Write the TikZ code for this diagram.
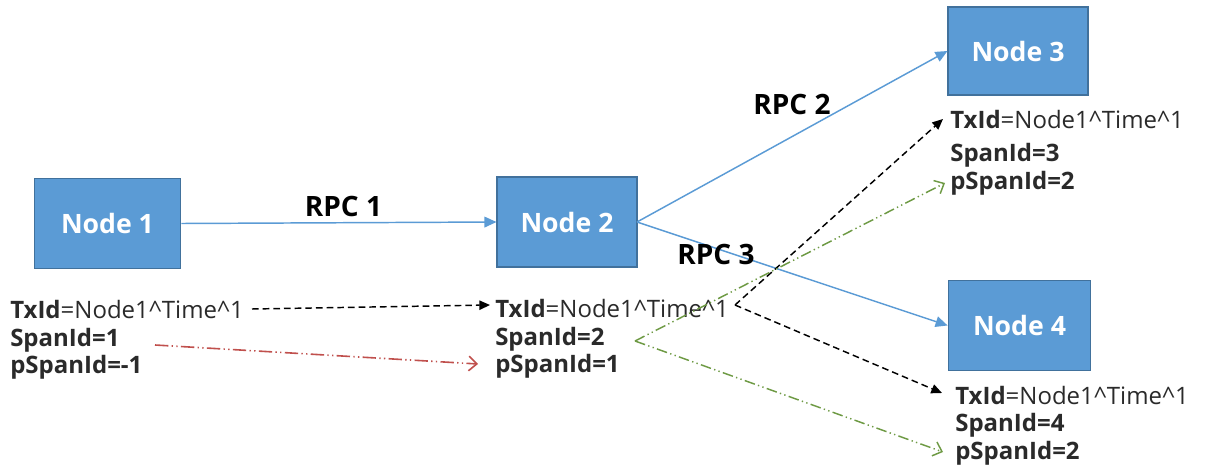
\documentclass[tikz,border=0pt]{standalone}
\usepackage{fontspec}
\setmainfont{Open Sans}
\usetikzlibrary{arrows.meta}
\definecolor{nodeblue}{HTML}{5B9BD5}
\definecolor{nodeedge}{HTML}{41719C}
\definecolor{linkblue}{HTML}{5B9BD5}
\definecolor{dgreen}{HTML}{6E9A44}
\definecolor{dred}{HTML}{C0504D}
\definecolor{txtgray}{HTML}{2A2A2A}
\begin{document}
\begin{tikzpicture}[x=0.75pt,y=-0.75pt,
  box/.style={draw=nodeedge, fill=nodeblue, line width=0.8pt, text=white,
    font=\bfseries\fontsize{20}{22}\selectfont, inner sep=0pt},
  rpc/.style={font=\bfseries\fontsize{21}{23}\selectfont, text=black, inner sep=0pt, anchor=base},
  info/.style={anchor=base west, inner sep=0pt, font=\fontsize{18}{20}\selectfont, text=txtgray},
  link/.style={draw=linkblue, line width=1.1pt, -{Triangle[length=9pt,width=8pt]}},
  blackdash/.style={draw=black, line width=1.1pt, dash pattern=on 5pt off 3pt, -{Triangle[length=8pt,width=7pt]}},
  greendash/.style={draw=dgreen, line width=1.1pt, dash pattern=on 8pt off 2.5pt on 1pt off 2.5pt on 1pt off 2.5pt, -{Straight Barb[length=6pt,width=11pt]}},
  reddash/.style={draw=dred, line width=1.2pt, dash pattern=on 10pt off 2.5pt on 1pt off 2.5pt on 1pt off 2.5pt, -{Straight Barb[length=6pt,width=11pt]}}
]
\useasboundingbox (0,0) rectangle (1218,468);

% nodes
\node[box, minimum width=110pt, minimum height=68pt] (n1) at (107.5,223.5) {Node 1};
\node[box, minimum width=105pt, minimum height=67.5pt] (n2) at (567,222) {Node 2};
\node[box, minimum width=105pt, minimum height=66pt] (n3) at (1018,51) {Node 3};
\node[box, minimum width=107pt, minimum height=67pt] (n4) at (1019.5,325.5) {Node 4};

% rpc links
\draw[link] (n1.east) -- (n2.west);
\coordinate (n2out) at (637,222);
\draw[link] (n2out) -- (n3.west);
\draw[link] (n2out) -- (n4.west);
\node[rpc] (r1) at (343.5,216) {RPC 1};
\node[rpc] (r2) at (792,114) {RPC 2};
\node[rpc] (r3) at (716,264) {RPC 3};

% info blocks
\node[info] (t1) at (10,318) {\textbf{TxId}=Node1\^{}Time\^{}1};
\node[info] (s1) at (10,346) {\textbf{SpanId=1}};
\node[info] (p1) at (10,373) {\textbf{pSpanId=-1}};

\node[info] (t2) at (495,317) {\textbf{TxId}=Node1\^{}Time\^{}1};
\node[info] (s2) at (495,345) {\textbf{SpanId=2}};
\node[info] (p2) at (495,372) {\textbf{pSpanId=1}};

\node[info] (t3) at (950,128) {\textbf{TxId}=Node1\^{}Time\^{}1};
\node[info] (s3) at (950,161) {\textbf{SpanId=3}};
\node[info] (p3) at (950,189) {\textbf{pSpanId=2}};

\node[info] (t4) at (955,404) {\textbf{TxId}=Node1\^{}Time\^{}1};
\node[info] (s4) at (955,431) {\textbf{SpanId=4}};
\node[info] (p4) at (955,459) {\textbf{pSpanId=2}};

% trace connectors
\coordinate (b1s) at (252,309);
\coordinate (b1e) at (490,305);
\draw[blackdash] (b1s) -- (b1e);
\coordinate (r1s) at (155,345);
\coordinate (r1e) at (478,364);
\draw[reddash] (r1s) -- (r1e);

\coordinate (b2s) at (735,305);
\coordinate (b3e) at (943,119);
\coordinate (b4e) at (942,393);
\draw[blackdash] (b2s) -- (b3e);
\draw[blackdash] (b2s) -- (b4e);

\coordinate (g2s) at (635,341);
\coordinate (g3e) at (945,183);
\coordinate (g4e) at (943,452);
\draw[greendash] (g2s) -- (g3e);
\draw[greendash] (g2s) -- (g4e);
\end{tikzpicture}
\end{document}
